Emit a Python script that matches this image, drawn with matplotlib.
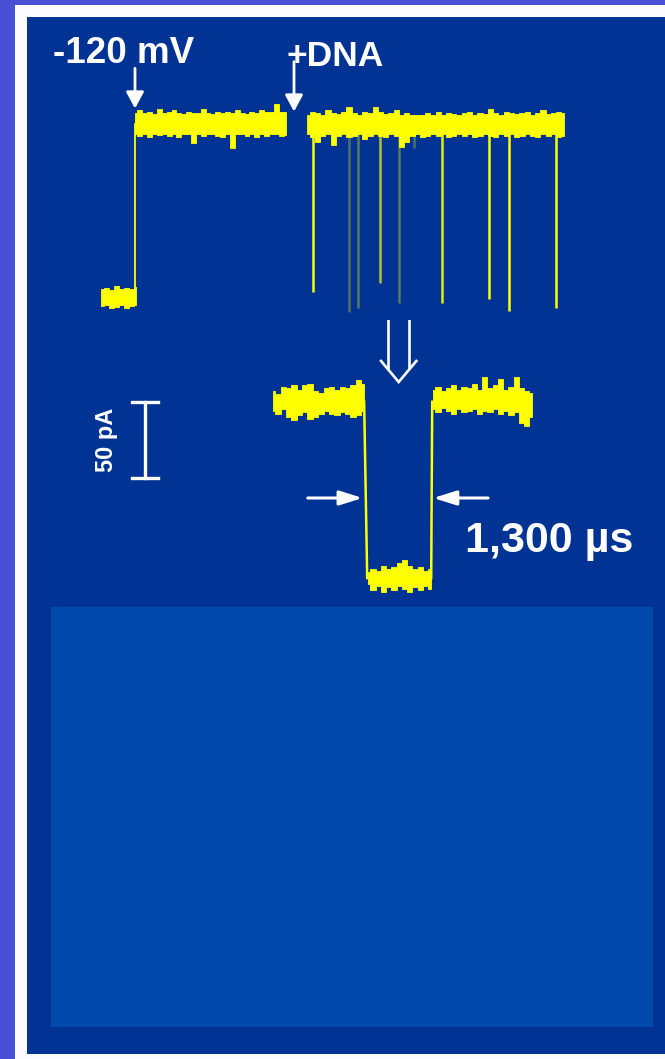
"""Nanopore trace: voltage step, DNA addition and one translocation event (zoom)."""

import numpy as np
import matplotlib
matplotlib.use("Agg")
import matplotlib.pyplot as plt
from matplotlib.patches import Rectangle

plt.rcParams["font.family"] = ["Liberation Sans", "DejaVu Sans"]

# ---- data: overview trace (time in s, current in pA) ----
open_pA = 114.0          # open pore current at -120 mV
zero_pA = 0.0            # before voltage is applied
t_step = 0.40            # -120 mV applied
t_dna = 2.00             # DNA added

segA_span = (0.06, 0.41)
segA_up = [5, 6, 4.5, 7, 5.5, 6, 5, 6.5]
segA_lo = [-6, -5, -7, -6.5, -5.5, -7, -6, -5]

segB_span = (0.40, 1.91)
segB_up = [7, 9, 7, 8, 6.5, 10, 7, 7.5, 9, 7, 6.5, 8, 7, 7, 9.5, 7,
           6.5, 8, 7, 7.5, 7, 9, 7, 6.5, 8, 7, 9, 7.5, 8, 13, 7.5, 8]
segB_lo = [-7, -8, -6.5, -9, -7, -7.5, -6.5, -8, -7, -8.5, -7, -6.5, -13, -7, -8, -7,
           -6.5, -8, -9, -7, -16, -7, -6.5, -8, -7, -9, -7, -8, -6.5, -7, -8, -7.5]

segC_span = (2.12, 4.69)
segC_up = [6, 8, 7, 6, 9, 7, 6.5, 8, 11, 7, 6, 8, 7, 11, 8, 6.5, 7, 9, 6, 7,
           6, 5.5, 6, 7, 6, 8, 6, 7, 6.5, 6, 7, 8, 6, 7, 6.5, 10, 7, 6, 8, 7,
           6.5, 7, 8, 6, 7, 9, 6.5, 7, 8, 7]
segC_lo = [-7, -9, -12, -8, -7, -14, -8, -7, -9, -8, -7, -10, -8, -7, -8, -9, -7, -8, -15, -12,
           -8, -7, -9, -8, -7, -8, -7, -9, -8, -7, -8, -7, -9, -8, -7, -8, -9, -7, -8, -7,
           -9, -8, -7, -8, -9, -7, -8, -7, -9, -8]

event_t = [2.18, 2.54, 2.63, 2.85, 3.04, 3.19, 3.47, 3.94, 4.14, 4.61]
event_pA = [3, -10, -7, 9, -4, 98, -4, -1, -9, -7]

# ---- data: single event (time in ms, current in pA) ----
ev_start = 2.08
ev_dur = 1.30
det_open_pA = 114.0
det_block_pA = -2.0

detL_span = (0.25, 2.04)
detL_up = [7, 5, 10, 9, 11, 8, 11, 12, 7, 6, 9, 10, 8, 10, 9, 11, 14, 12]
detL_lo = [-6, -8, -5, -10, -12, -9, -7, -11, -10, -8, -6, -8, -9, -7, -8, -10, -9, -6]

detB_span = (2.12, 3.36)
detB_up = [4, 6, 5, 8, 6, 7, 10, 12, 8, 6, 7, 5, 6]
detB_lo = [-4, -8, -5, -9, -6, -8, -5, -7, -9, -6, -8, -5, -7]

detR_span = (3.40, 5.35)
detR_up = [8, 10, 7, 9, 11, 8, 10, 9, 12, 8, 16, 9, 11, 15, 8, 10, 16, 9, 7, 6]
detR_lo = [-5, -7, -4, -6, -8, -5, -7, -6, -5, -8, -6, -7, -5, -8, -6, -9, -7, -14, -16, -10]

scale_pA = 50

YELLOW = "#ffff00"
WHITE = "#ffffff"
W, H = 665, 1059

fig = plt.figure(figsize=(W / 100, H / 100), dpi=100, facecolor="#4a50d6")

# background frame (pixel coords)
bg = fig.add_axes([0, 0, 1, 1], zorder=0)
bg.set_xlim(0, W)
bg.set_ylim(H, 0)
bg.axis("off")
bg.add_patch(Rectangle((15, 5), W - 15, H - 5, color="#fcfcfe", lw=0))
bg.add_patch(Rectangle((27, 17), W - 27, 1037, color="#003394", lw=0))
bg.add_patch(Rectangle((51, 607), 602, 420, color="#0049aa", lw=0))


def px_axes(x0, x1, y0, y1):
    ax = fig.add_axes([x0 / W, 1 - y1 / H, (x1 - x0) / W, (y1 - y0) / H], zorder=1)
    ax.patch.set_alpha(0)
    ax.axis("off")
    return ax


def band(ax, span, level, up, lo):
    t = np.linspace(span[0], span[1], len(up))
    ax.fill_between(t, level + np.array(lo), level + np.array(up),
                    step="mid", color=YELLOW, lw=0.6, edgecolor=YELLOW)


# ---- overview trace ----
ax1 = px_axes(95, 575, 95, 320)
ax1.set_xlim(0, 4.8)
ax1.set_ylim(-15.1, 132.9)

band(ax1, segA_span, zero_pA, segA_up, segA_lo)
band(ax1, segB_span, open_pA, segB_up, segB_lo)
band(ax1, segC_span, open_pA, segC_up, segC_lo)
ax1.plot([t_step, t_step], [zero_pA, open_pA], color=YELLOW, lw=1.3)

event_alpha = [1, 0.3, 0.35, 0.7, 0.35, 0.3, 0.9, 1, 1, 1]
for t, cur, a in zip(event_t, event_pA, event_alpha):
    ax1.plot([t, t], [open_pA, cur], color=YELLOW, lw=1.8, alpha=a,
             solid_capstyle="butt")

arrow_small = dict(arrowstyle="-|>,head_length=0.5,head_width=0.27",
                   color=WHITE, lw=2.0, mutation_scale=20, shrinkA=0, shrinkB=0)
ax1.annotate("", xy=(t_step, open_pA + 10), xytext=(0, 29),
             textcoords="offset points", arrowprops=arrow_small)
ax1.annotate("", xy=(t_dna - 0.01, open_pA + 8), xytext=(0, 36),
             textcoords="offset points", arrowprops=arrow_small)

ax1.text(-0.42, 154, "-120 mV", color=WHITE, fontsize=26.5, fontweight="bold",
         va="baseline", ha="left")
ax1.text(1.92, 152, "+DNA", color=WHITE, fontsize=25.5, fontweight="bold",
         va="baseline", ha="left")

# ---- single event ----
ax2 = px_axes(260, 545, 320, 600)
ax2.set_xlim(0, 5.61)
ax2.set_ylim(-16.4, 167.8)

ev_end = ev_start + ev_dur
band(ax2, detL_span, det_open_pA, detL_up, detL_lo)
band(ax2, detB_span, det_block_pA, detB_up, detB_lo)
band(ax2, detR_span, det_open_pA, detR_up, detR_lo)
ax2.plot([ev_start - 0.03, ev_start + 0.03], [det_open_pA, det_block_pA], color=YELLOW, lw=1.8)
ax2.plot([ev_end - 0.01, ev_end + 0.01], [det_block_pA, det_open_pA], color=YELLOW, lw=1.8)

arrow_h = dict(arrowstyle="-|>,head_length=0.7,head_width=0.22",
               color=WHITE, lw=2.2, mutation_scale=20, shrinkA=0, shrinkB=0)
ax2.annotate("", xy=(ev_start - 0.06, 50.7), xytext=(ev_start - 1.14, 50.7), arrowprops=arrow_h)
ax2.annotate("", xy=(ev_end + 0.03, 50.7), xytext=(ev_end + 1.11, 50.7), arrowprops=arrow_h)
ax2.text(ev_end + 0.66, 15, "1,300 \u00b5s", color=WHITE, fontsize=31,
         fontweight="bold", va="baseline", ha="left")

# hollow "zoom" arrow above the event (double shaft + chevron)
ev_mid = ev_start + ev_dur / 2
tip = 127
hs, hw = 0.207, 0.364          # half shaft gap, half head width (ms)
hl, sl = 14.5, 42.0            # head length, total length (pA)
arrow_kw = dict(color=WHITE, lw=1.9, solid_capstyle="butt", solid_joinstyle="miter")
ax2.plot([ev_mid - hw, ev_mid, ev_mid + hw], [tip + hl, tip, tip + hl], **arrow_kw)
for s in (-hs, hs):
    ax2.plot([ev_mid + s, ev_mid + s], [tip + hl * hs / hw, tip + sl], **arrow_kw)

# 50 pA scale bar
sb_x = -2.26
sb_y0 = det_open_pA - scale_pA
ax2.plot([sb_x, sb_x], [sb_y0, det_open_pA], color=WHITE, lw=2.4, clip_on=False)
for yy in (sb_y0, det_open_pA):
    ax2.plot([sb_x - 0.26, sb_x + 0.26], [yy, yy], color=WHITE, lw=2.4, clip_on=False)
ax2.text(-3.03, sb_y0 + scale_pA / 2, "50 pA", color=WHITE, fontsize=17,
         fontweight="bold", rotation=90, ha="center", va="center")

plt.savefig("out.png", dpi=100, facecolor=fig.get_facecolor())
plt.close()
